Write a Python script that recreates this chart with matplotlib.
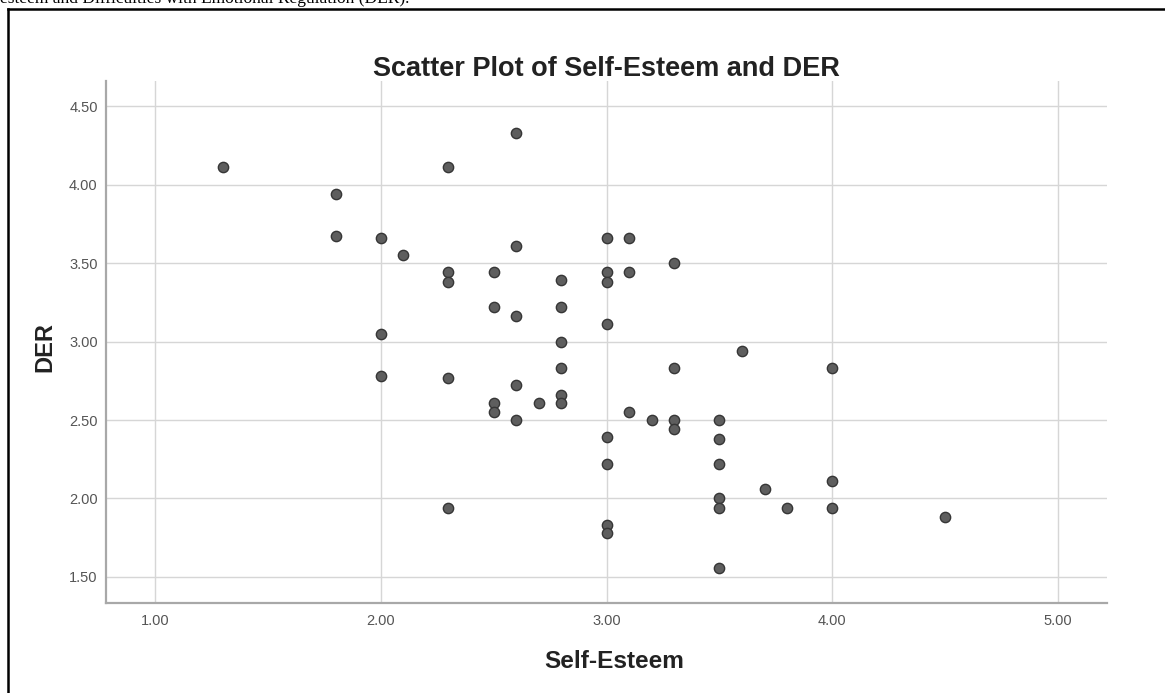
import matplotlib
matplotlib.use("Agg")
import matplotlib.pyplot as plt
from matplotlib.lines import Line2D

# Data
self_esteem = [1.3, 1.8, 1.8, 2.0, 2.0, 2.0, 2.1,
               2.3, 2.3, 2.3, 2.3, 2.3,
               2.5, 2.5, 2.5, 2.5,
               2.6, 2.6, 2.6, 2.6, 2.6,
               2.7,
               2.8, 2.8, 2.8, 2.8, 2.8, 2.8,
               3.0, 3.0, 3.0, 3.0, 3.0, 3.0, 3.0, 3.0,
               3.1, 3.1, 3.1,
               3.2,
               3.3, 3.3, 3.3, 3.3,
               3.5, 3.5, 3.5, 3.5, 3.5, 3.5,
               3.6, 3.7, 3.8,
               4.0, 4.0, 4.0,
               4.5]
der = [4.11, 3.94, 3.67, 3.66, 3.05, 2.78, 3.55,
       4.11, 3.44, 3.38, 2.77, 1.94,
       3.44, 3.22, 2.61, 2.55,
       4.33, 3.61, 3.16, 2.72, 2.50,
       2.61,
       3.39, 3.22, 3.00, 2.83, 2.66, 2.61,
       3.66, 3.44, 3.38, 3.11, 2.39, 2.22, 1.83, 1.78,
       3.66, 3.44, 2.55,
       2.50,
       3.50, 2.83, 2.50, 2.44,
       2.50, 2.38, 2.22, 2.00, 1.94, 1.56,
       2.94, 2.06, 1.94,
       2.83, 2.11, 1.94,
       1.88]
x_ticks = [1.0, 2.0, 3.0, 4.0, 5.0]
y_ticks = [1.5, 2.0, 2.5, 3.0, 3.5, 4.0, 4.5]
x_tick_labels = ["1.00", "2.00", "3.00", "4.00", "5.00"]
y_tick_labels = ["1.50", "2.00", "2.50", "3.00", "3.50", "4.00", "4.50"]

plt.rcParams['font.family'] = ['Liberation Sans', 'DejaVu Sans']

W, H = 1165, 693
fig = plt.figure(figsize=(W / 100, H / 100), dpi=100)
fig.patch.set_facecolor('white')

ax = fig.add_axes([106 / W, 1 - 603 / H, (1107 - 106) / W, (603 - 81) / H])
ax.set_xlim(0.783, 5.217)
ax.set_ylim(1.334, 4.66)

ax.set_xticks(x_ticks)
ax.set_xticklabels(x_tick_labels)
ax.set_yticks(y_ticks)
ax.set_yticklabels(y_tick_labels)
ax.tick_params(axis='both', length=0, labelsize=10.5, labelcolor='#555555')
ax.tick_params(axis='x', pad=8)
ax.tick_params(axis='y', pad=6)

ax.grid(True, color='#d6d6d6', linewidth=1.0)
ax.set_axisbelow(True)

for s in ['top', 'right']:
    ax.spines[s].set_visible(False)
for s in ['left', 'bottom']:
    ax.spines[s].set_color('#a8a8a8')
    ax.spines[s].set_linewidth(1.6)

ax.scatter(self_esteem, der, s=55, facecolor='#5e5e5e', edgecolor='#363636',
           linewidth=1.0, zorder=3)

ax.text(0.5, 1.023, "Scatter Plot of Self-Esteem and DER", transform=ax.transAxes,
        ha='center', va='center', fontsize=19.5, fontweight='bold', color='#222222')
ax.set_xlabel("Self-Esteem", fontsize=17.6, fontweight='bold', color='#222222')
ax.xaxis.set_label_coords(0.5075, -0.113)
ax.xaxis.label.set_va('center')
ax.set_ylabel("DER", fontsize=17, fontweight='bold', color='#222222')
ax.yaxis.set_label_coords(-0.061, 0.49)
ax.yaxis.label.set_va('center')

# document frame and cut-off caption text
fig.add_artist(Line2D([8 / W, 8 / W], [0, 1 - 9 / H], transform=fig.transFigure,
                      color='black', linewidth=1.8))
fig.add_artist(Line2D([8 / W, 1], [1 - 9 / H, 1 - 9 / H], transform=fig.transFigure,
                      color='black', linewidth=1.8))
fig.text(0.0, 1 - 3 / H, "esteem and Difficulties with Emotional Regulation (DER).",
         family=['Liberation Serif', 'DejaVu Serif'], fontsize=12.5, ha='left',
         va='baseline', color='black')

fig.savefig("out.png", dpi=100)
